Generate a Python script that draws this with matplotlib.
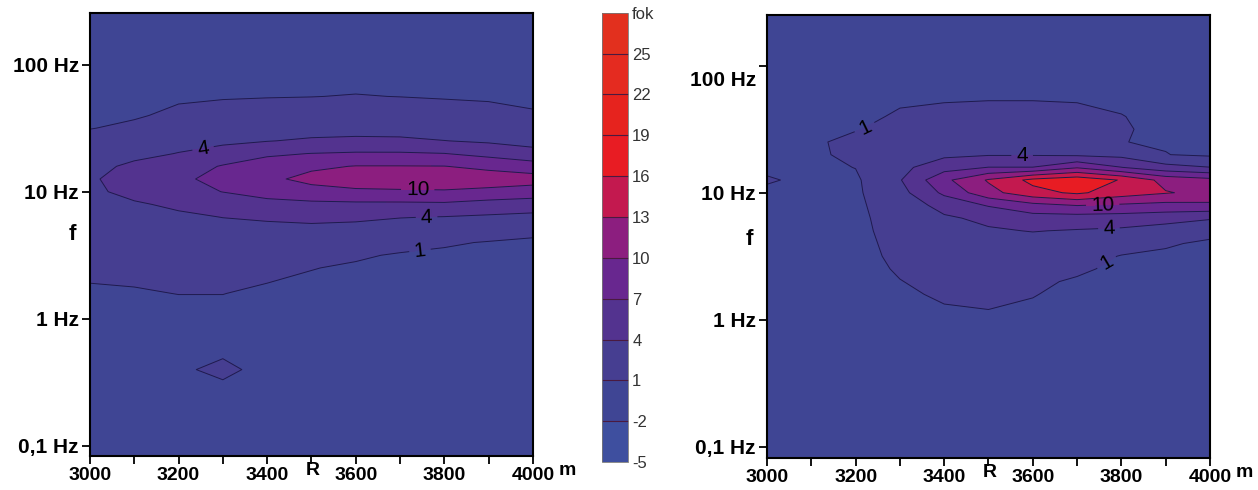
import matplotlib
matplotlib.use("Agg")
import matplotlib.pyplot as plt
import numpy as np
from matplotlib.colors import ListedColormap, BoundaryNorm
from matplotlib.transforms import blended_transform_factory, ScaledTranslation

plt.rcParams["font.family"] = ["Liberation Sans", "DejaVu Sans"]

# grid nodes: distance R (m) and log10 of frequency f (Hz)
R = [3000, 3100, 3200, 3300, 3400, 3500, 3600, 3700, 3800, 3900, 4000]
log_f = [2.45, 2.1, 1.9, 1.75, 1.6, 1.5, 1.4, 1.3, 1.2, 1.1, 1.0, 0.9, 0.8,
         0.7, 0.6, 0.5, 0.4, 0.3, 0.2, 0.0, -0.2, -0.4, -0.6, -0.8, -1.15]

# fok values, one list per R column (top to bottom along log_f)
fok_left_cols = [
    [0, 0, 0.2, 0.4, 0.7, 0.95, 1.6, 2.4, 3.1, 3.5, 3.3, 2.9, 2.5, 2.1, 1.8, 1.5, 1.25, 1.05, 0.8, 0.5, 0.3, 0.2, 0.1, 0, 0],
    [0, 0.1, 0.3, 0.5, 0.85, 1.3, 2.2, 3.2, 4.6, 5.7, 5.0, 3.6, 2.9, 2.4, 2.0, 1.6, 1.35, 1.1, 0.9, 0.6, 0.3, 0.2, 0.1, 0, 0],
    [0, 0.2, 0.5, 0.8, 1.3, 2.0, 3.0, 4.1, 5.6, 6.5, 6.0, 4.6, 3.4, 2.7, 2.2, 1.8, 1.5, 1.25, 1.02, 0.6, 0.35, 0.6, 0.1, 0, 0],
    [0, 0.3, 0.6, 0.9, 1.5, 2.3, 3.4, 5.2, 7.2, 7.8, 7.05, 5.4, 4.05, 3.0, 2.4, 1.9, 1.5, 1.25, 1.02, 0.6, 0.2, 1.6, 0.1, 0, 0],
    [0, 0.3, 0.65, 0.95, 1.6, 2.6, 3.9, 6.6, 8.2, 9.4, 8.2, 6.0, 4.4, 3.2, 2.3, 1.7, 1.35, 1.05, 0.8, 0.5, 0.2, 0.2, 0.1, 0, 0],
    [0, 0.3, 0.65, 0.98, 1.7, 2.8, 4.4, 7.05, 9.5, 10.8, 9.0, 6.3, 4.7, 3.3, 2.2, 1.5, 1.05, 0.8, 0.6, 0.4, 0.2, 0.2, 0.1, 0, 0],
    [0, 0.3, 0.65, 1.05, 1.8, 2.9, 4.6, 7.3, 10.1, 11.5, 9.5, 6.4, 4.6, 3.0, 1.8, 1.2, 0.8, 0.6, 0.5, 0.3, 0.2, 0.1, 0.1, 0, 0],
    [0, 0.3, 0.65, 0.98, 1.8, 2.9, 4.5, 7.3, 10.1, 11.8, 9.6, 6.4, 4.1, 2.7, 1.6, 0.85, 0.6, 0.5, 0.4, 0.3, 0.2, 0.1, 0.1, 0, 0],
    [0, 0.35, 0.7, 0.9, 1.6, 2.6, 4.05, 7.05, 10.05, 11.8, 9.7, 6.5, 3.9, 2.4, 1.2, 0.7, 0.5, 0.4, 0.35, 0.3, 0.2, 0.1, 0.1, 0, 0],
    [0, 0.35, 0.6, 0.85, 1.4, 2.3, 3.6, 6.1, 9.3, 11.5, 9.3, 5.8, 3.6, 2.0, 0.9, 0.6, 0.45, 0.4, 0.35, 0.3, 0.2, 0.1, 0.1, 0, 0],
    [0, 0.3, 0.5, 0.7, 1.15, 1.9, 3.0, 5.0, 8.4, 11.2, 8.7, 5.4, 3.3, 1.5, 0.7, 0.5, 0.4, 0.35, 0.3, 0.3, 0.2, 0.1, 0.1, 0, 0],
]

fok_right_cols = [
    [0, 0, 0, 0, 0, 0, 0, 0, 0.3, 1.35, 0.3, 0, 0, 0, 0, 0, 0, 0, 0, 0, 0, 0, 0, 0, 0],
    [0, 0, 0.1, 0.2, 0.35, 0.5, 0.7, 0.6, 0.4, 0.2, 0.2, 0.2, 0.2, 0.2, 0.15, 0.1, 0.1, 0.05, 0, 0, 0, 0, 0, 0, 0],
    [0, 0.1, 0.25, 0.4, 0.6, 0.9, 1.5, 1.5, 1.05, 0.6, 0.6, 0.6, 0.6, 0.6, 0.5, 0.4, 0.3, 0.2, 0.15, 0.1, 0.05, 0, 0, 0, 0],
    [0, 0.2, 0.4, 0.75, 1.2, 1.6, 2.0, 2.5, 3.2, 3.8, 3.0, 2.2, 1.8, 1.6, 1.5, 1.4, 1.2, 0.95, 0.7, 0.3, 0.1, 0, 0, 0, 0],
    [0, 0.25, 0.5, 0.85, 1.4, 2.0, 2.6, 3.4, 5.8, 9.3, 7.6, 5.0, 3.6, 2.8, 2.3, 2.0, 1.8, 1.5, 1.25, 0.6, 0.4, 0.2, 0, 0, 0],
    [0, 0.25, 0.55, 0.9, 1.5, 2.2, 3.0, 3.8, 7.05, 13.3, 12.0, 7.2, 4.6, 3.7, 2.9, 2.3, 1.9, 1.6, 1.3, 0.8, 0.5, 0.2, 0, 0, 0],
    [0, 0.25, 0.55, 0.9, 1.5, 2.2, 3.0, 3.8, 7.05, 16.8, 15.0, 9.0, 5.8, 4.1, 3.0, 2.3, 1.7, 1.3, 1.05, 0.7, 0.4, 0.2, 0, 0, 0],
    [0, 0.25, 0.55, 0.85, 1.4, 2.0, 2.7, 3.5, 9.7, 18.0, 16.5, 10.05, 5.7, 3.8, 2.7, 1.9, 1.3, 0.8, 0.7, 0.5, 0.3, 0.15, 0, 0, 0],
    [0, 0.25, 0.45, 0.75, 1.04, 1.1, 1.03, 3.2, 7.05, 15.8, 14.5, 9.5, 5.6, 3.5, 2.0, 0.9, 0.6, 0.45, 0.35, 0.25, 0.15, 0.1, 0, 0, 0],
    [0, 0.2, 0.35, 0.5, 0.65, 0.75, 0.85, 1.05, 5.0, 12.0, 13.2, 9.0, 5.2, 2.6, 1.2, 0.7, 0.5, 0.4, 0.3, 0.2, 0.1, 0.05, 0, 0, 0],
    [0, 0.15, 0.25, 0.35, 0.45, 0.55, 0.65, 0.6, 4.05, 10.9, 12.2, 9.3, 4.3, 1.6, 0.7, 0.5, 0.4, 0.3, 0.25, 0.2, 0.1, 0.05, 0, 0, 0],
]

levels = [-5, -2, 1, 4, 7, 10, 13, 16, 19, 22, 25, 28]
level_labels = ["-5", "-2", "1", "4", "7", "10", "13", "16", "19", "22", "25", "fok"]
band_colors = ["#3e4f9f", "#3f4594", "#463e91", "#53338f", "#68278f", "#8c1e7f",
               "#c3194f", "#e81c23", "#e6231e", "#e42b20", "#e2301e"]
line_levels = [1, 4, 7, 10, 13, 16]

f_ticks = [-1, 0, 1, 2]
f_tick_labels = ["0,1 Hz", "1 Hz", "10 Hz", "100 Hz"]
r_ticks = [3000, 3200, 3400, 3600, 3800, 4000]

cmap = ListedColormap(band_colors)
norm = BoundaryNorm(levels, cmap.N)

fig = plt.figure(figsize=(12.58, 4.9), dpi=100)
ax1 = fig.add_axes([0.0715, 0.0694, 0.3521, 0.905])
ax2 = fig.add_axes([0.6097, 0.0653, 0.3521, 0.904])
cax = fig.add_axes([0.4785, 0.057, 0.0207, 0.917])

bold = dict(fontsize=14, fontweight="bold")


def panel(ax, cols, label_pos, ylim, f_y):
    Z = np.array(cols).T
    cf = ax.contourf(R, log_f, Z, levels=levels, cmap=cmap, norm=norm)
    cl = ax.contour(R, log_f, Z, levels=line_levels, colors="#1e1b4e",
                    linewidths=0.7)
    ax.clabel(cl, manual=label_pos, inline=True, fmt="%d",
              fontsize=15, colors="black")
    ax.set_xlim(3000, 4000)
    ax.set_ylim(*ylim)
    ax.set_xticks(r_ticks)
    ax.set_xticklabels([str(r) for r in r_ticks], **bold)
    ax.set_xticks([3100, 3300, 3500, 3700, 3900], minor=True)
    ax.set_yticks(f_ticks)
    ax.set_yticklabels(f_tick_labels, fontsize=15, fontweight="bold")
    ax.tick_params(which="both", direction="out", length=6, width=1.3, pad=2)
    for s in ax.spines.values():
        s.set_linewidth(1.5)
    tr_x = blended_transform_factory(ax.transData, ax.transAxes)
    tr_y = blended_transform_factory(ax.transAxes, ax.transData)
    ax.text(3503, -0.032, "R", transform=tr_x, ha="center", va="center", **bold)
    ax.text(1.078, -0.032, "m", transform=ax.transAxes, ha="center",
            va="center", **bold)
    ax.text(-0.04, f_y, "f", transform=tr_y, ha="center", va="center",
            fontsize=16, fontweight="bold")
    return cf


cf = panel(ax1, fok_left_cols,
           [(3255, 1.35), (3740, 1.03), (3760, 0.80), (3745, 0.54)],
           (-1.08, 2.41), 0.66)
panel(ax2, fok_right_cols,
      [(3221, 1.51), (3576, 1.28), (3758, 0.89), (3772, 0.72), (3770, 0.43)],
      (-1.09, 2.40), 0.63)

# the "100 Hz" label on the right panel sits a little below its tick
top_lbl = ax2.get_yticklabels()[-1]
top_lbl.set_transform(top_lbl.get_transform()
                      + ScaledTranslation(0, -0.13, fig.dpi_scale_trans))

cb = fig.colorbar(cf, cax=cax, ticks=levels, drawedges=True)
cb.ax.set_yticklabels(level_labels)
cb.ax.tick_params(length=0, labelsize=12, colors="#333333", pad=3)
cb.outline.set_linewidth(0.6)
cb.outline.set_edgecolor("#777777")
cb.dividers.set_color("#4a1a40")
cb.dividers.set_linewidth(0.8)

fig.savefig("out.png", dpi=100)
